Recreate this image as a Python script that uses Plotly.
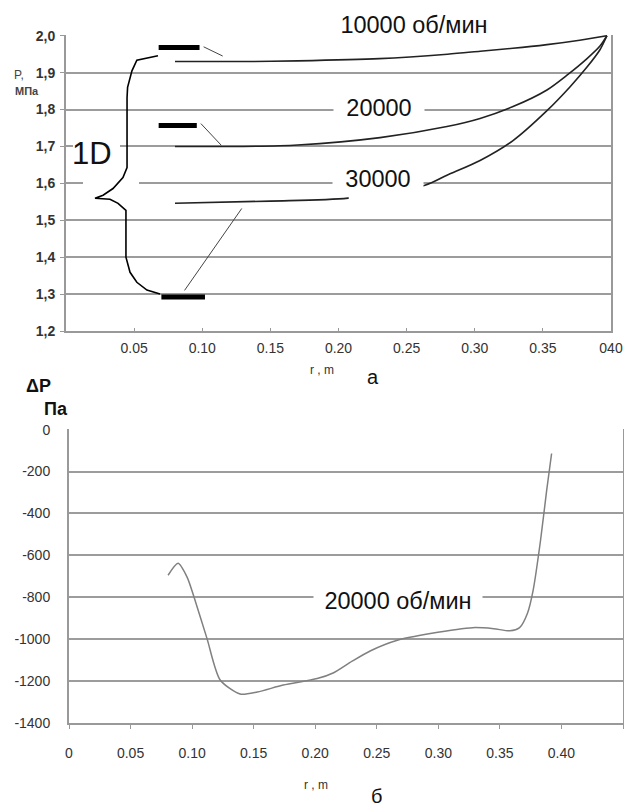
import plotly.graph_objects as go

# ---------- data: panel (a) pressure P [MPa] vs radius r [m] ----------
r_10000 = [0.08, 0.13, 0.17, 0.23, 0.28, 0.304, 0.328, 0.353, 0.377, 0.397]
p_10000 = [1.930, 1.930, 1.932, 1.938, 1.950, 1.958, 1.966, 1.976, 1.988, 2.0]

r_20000 = [0.08, 0.13, 0.17, 0.2305, 0.2796, 0.3039, 0.3281, 0.353, 0.3677, 0.3824, 0.3919, 0.397]
p_20000 = [1.700, 1.700, 1.704, 1.724, 1.754, 1.776, 1.808, 1.853, 1.893, 1.938, 1.972, 2.0]

r_30000 = [0.08, 0.15, 0.207, 0.2635, 0.2796, 0.3039, 0.3281, 0.353, 0.370, 0.3824, 0.3919, 0.397]
p_30000 = [1.546, 1.552, 1.560, 1.595, 1.622, 1.662, 1.716, 1.797, 1.862, 1.915, 1.962, 2.0]

top_y_ticks = [1.2, 1.3, 1.4, 1.5, 1.6, 1.7, 1.8, 1.9, 2.0]
top_y_text = ["1,2", "1,3", "1,4", "1,5", "1,6", "1,7", "1,8", "1,9", "2,0"]
top_x_ticks = [0.05, 0.10, 0.15, 0.20, 0.25, 0.30, 0.35, 0.40]
top_x_text = ["0.05", "0.10", "0.15", "0.20", "0.25", "0.30", "0.35", "040"]

# ---------- data: panel (б) pressure difference dP [Pa] vs r [m], 20000 rpm ----------
r_dp = [0.0805, 0.0886, 0.096, 0.1016, 0.112, 0.1228, 0.139, 0.153, 0.174, 0.2016,
        0.215, 0.23, 0.245, 0.2667, 0.2935, 0.328, 0.345, 0.358, 0.366, 0.3724, 0.377,
        0.383, 0.388, 0.392]
dp = [-695, -638, -705, -800, -995, -1195, -1262, -1252, -1219, -1188,
      -1160, -1105, -1055, -1005, -973, -945, -950, -960, -945, -876, -767,
      -529, -290, -114]

bot_y_ticks = [0, -200, -400, -600, -800, -1000, -1200, -1400]
bot_y_text = ["0", "-200", "-400", "-600", "-800", "-1000", "-1200", "-1400"]
bot_x_ticks = [0, 0.05, 0.10, 0.15, 0.20, 0.25, 0.30, 0.35, 0.40, 0.45]
bot_x_text = ["0", "0.05", "0.10", "0.15", "0.20", "0.25", "0.30", "0.35", "0.40", ""]

FONT = "Liberation Sans, Arial, sans-serif"
GRID = "#9c9c9c"

fig = go.Figure()
for rr, pp in [(r_10000, p_10000), (r_20000, p_20000), (r_30000, p_30000)]:
    fig.add_trace(go.Scatter(x=rr, y=pp, mode="lines", xaxis="x", yaxis="y",
                             line=dict(color="#222222", width=1.6, shape="spline", smoothing=0.8),
                             showlegend=False, hoverinfo="skip"))
fig.add_trace(go.Scatter(x=r_dp, y=dp, mode="lines", xaxis="x2", yaxis="y2",
                         line=dict(color="#808080", width=1.5, shape="spline", smoothing=0.7),
                         showlegend=False, hoverinfo="skip"))

W, H = 624, 809
def px(x):
    return x / W
def py(y):
    return 1 - y / H

axis_common = dict(showline=True, linecolor="#999999", linewidth=2, zeroline=False, automargin=False,
                   tickfont=dict(family=FONT, size=14, color="#333333"))

fig.update_layout(
    width=W, height=H, margin=dict(l=0, r=0, t=0, b=0, autoexpand=False),
    paper_bgcolor="white", plot_bgcolor="white",
    xaxis=dict(domain=[px(66), px(611)], range=[0, 0.40], anchor="y",
               tickmode="array", tickvals=top_x_ticks, ticktext=top_x_text,
               showgrid=False, ticks="inside", ticklen=3, tickcolor="#999999",
               ticklabelstandoff=3, **axis_common),
    yaxis=dict(domain=[py(331), py(35)], range=[1.2, 2.002], anchor="x",
               tickmode="array", tickvals=top_y_ticks, ticktext=top_y_text,
               showgrid=True, gridcolor=GRID, gridwidth=2, mirror=True,
               ticks="outside", ticklen=4, tickcolor="#999999", ticklabelstandoff=2,
               showline=True, linecolor="#999999", linewidth=2, zeroline=False, automargin=False,
               tickfont=dict(family=FONT, size=14, color="#333333", weight="bold")),
    xaxis2=dict(domain=[px(69), px(623)], range=[0, 0.45], anchor="y2",
                tickmode="array", tickvals=bot_x_ticks, ticktext=bot_x_text,
                showgrid=False, ticks="outside", ticklen=4, tickcolor="#999999",
                ticklabelstandoff=12, **axis_common),
    yaxis2=dict(domain=[py(723), py(429)], range=[-1400, 3], anchor="x2",
                tickmode="array", tickvals=bot_y_ticks, ticktext=bot_y_text,
                showgrid=True, gridcolor=GRID, gridwidth=2, mirror=True,
                ticks="", ticklabelstandoff=14, **axis_common),
)

shapes = []
# white masks for gridline breaks
shapes.append(dict(type="rect", xref="x", yref="y", x0=(73 - 66) / 1362.5, x1=(120 - 66) / 1362.5,
                   y0=1.693, y1=1.707, fillcolor="white", line=dict(width=0), layer="above"))
shapes.append(dict(type="rect", xref="x", yref="y", x0=(83 - 66) / 1362.5, x1=(139 - 66) / 1362.5,
                   y0=1.593, y1=1.607, fillcolor="white", line=dict(width=0), layer="above"))
shapes.append(dict(type="rect", xref="x", yref="y", x0=0.2075, x1=0.2625,
                   y0=1.545, y1=1.585, fillcolor="white", line=dict(width=0), layer="above"))
# brace
brace_pts = [(0.0675, 1.946), (0.052, 1.934), (0.0484, 1.905), (0.0452, 1.86), (0.0448, 1.832),
             (0.0448, 1.643), (0.0418, 1.616), (0.0345, 1.586), (0.0272, 1.568), (0.0213, 1.5595),
             (0.0323, 1.557), (0.0382, 1.546), (0.044, 1.527), (0.044, 1.40), (0.047, 1.359),
             (0.052, 1.332), (0.0594, 1.311), (0.069, 1.300)]
path = "M " + " L ".join(f"{a},{b}" for a, b in brace_pts)
shapes.append(dict(type="path", xref="x", yref="y", path=path,
                   line=dict(color="black", width=1.6), layer="above"))
# thick marker bars
for x0, x1, yv in [(0.068, 0.098, 1.968), (0.068, 0.096, 1.757), (0.070, 0.102, 1.292)]:
    shapes.append(dict(type="line", xref="x", yref="y", x0=x0, x1=x1, y0=yv, y1=yv,
                       line=dict(color="black", width=5), layer="above"))
# leader lines
for x0, y0, x1, y1 in [(0.101, 1.970, 0.115, 1.945), (0.099, 1.762, 0.114, 1.703),
                       (0.087, 1.31, 0.129, 1.532)]:
    shapes.append(dict(type="line", xref="x", yref="y", x0=x0, y0=y0, x1=x1, y1=y1,
                       line=dict(color="#444444", width=1), layer="above"))
fig.update_layout(shapes=shapes)

ann = []
def label(text, x, y, xref, yref, size, width=None, height=None, bg=None, bold=False, color="#111111"):
    d = dict(text=text, x=x, y=y, xref=xref, yref=yref, showarrow=False,
             xanchor="center", yanchor="middle",
             font=dict(family=FONT, size=size, color=color, weight="bold" if bold else "normal"))
    if width:
        d["width"] = width
    if height:
        d["height"] = height
    if bg:
        d["bgcolor"] = bg
        d["borderpad"] = 1
    ann.append(d)

label("10000 об/мин", px(414), py(25), "paper", "paper", 23.5, width=162, height=26, bg="white")
label("20000", px(379), py(108), "paper", "paper", 23.5, width=88, height=26, bg="white")
label("30000", px(378), py(179), "paper", "paper", 23.5, width=88, height=26, bg="white")
label("1D", px(92), py(154), "paper", "paper", 31)
label("P,", px(19), py(75), "paper", "paper", 12, color="#444444")
label("МПа", px(27), py(91), "paper", "paper", 11, color="#444444", bold=True)
label("r , m", px(322), py(370), "paper", "paper", 12, color="#333333")
label("а", px(373), py(377), "paper", "paper", 20)
label("20000 об/мин", px(398), py(601), "paper", "paper", 23.5, width=166, height=26, bg="white")
label("ΔP", px(38), py(386), "paper", "paper", 18, bold=True)
label("Па", px(56), py(409), "paper", "paper", 18, bold=True)
label("r , m", px(316), py(785), "paper", "paper", 12, color="#333333")
label("б", px(376), py(796), "paper", "paper", 20)
fig.update_layout(annotations=ann)

fig.write_html("out.html", config={"displayModeBar": False},
               post_script="document.body.style.margin='0';document.body.style.overflow='hidden';")
